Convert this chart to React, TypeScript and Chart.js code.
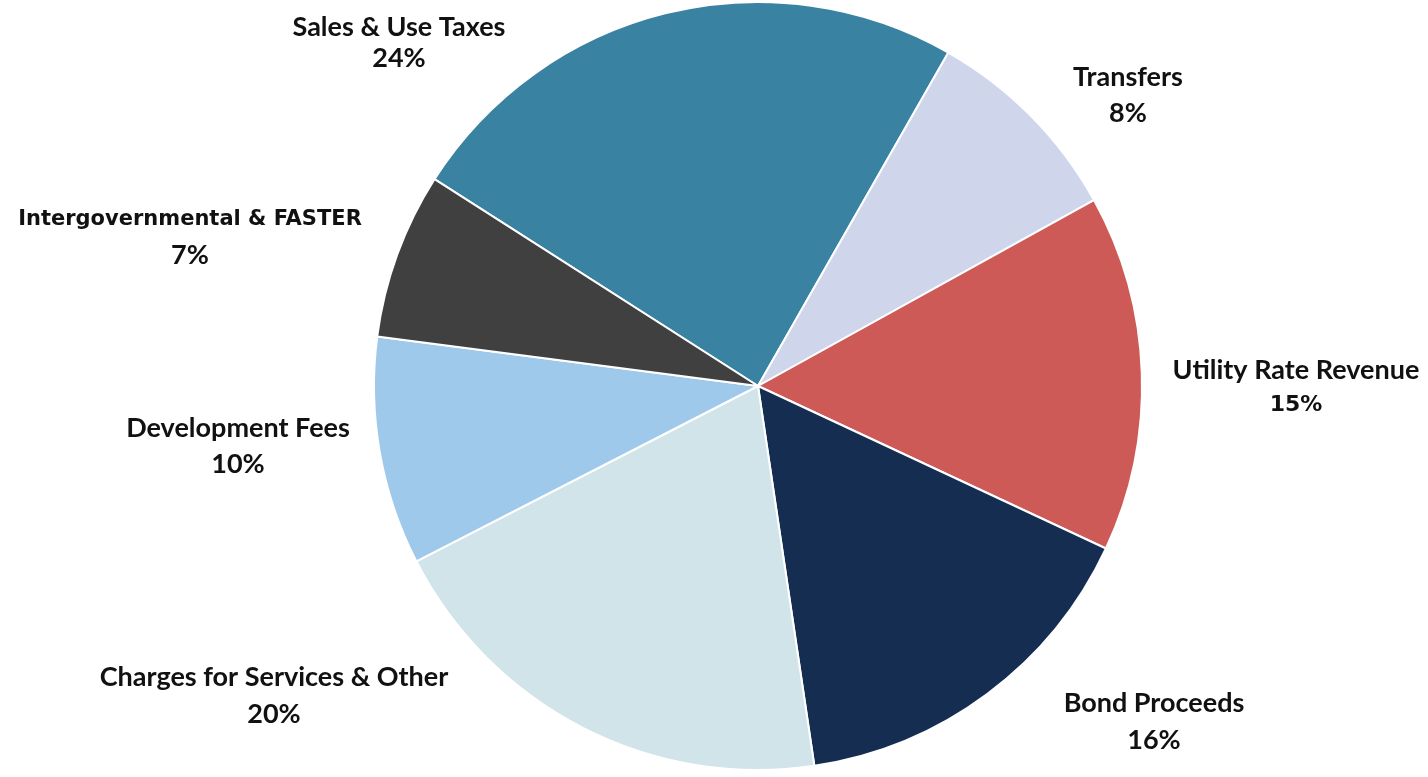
import React, { useEffect, useRef } from "react";
import { Chart, registerables } from "chart.js";

Chart.register(...registerables);

const categories = [
  "Sales & Use Taxes",
  "Transfers",
  "Utility Rate Revenue",
  "Bond Proceeds",
  "Charges for Services & Other",
  "Development Fees",
  "Intergovernmental & FASTER",
];
// slice sizes (percent of total)
const sliceValues = [24.2, 8.7, 15.0, 15.7, 19.8, 9.6, 7.0];
// percentages as printed on the chart
const pctLabels = ["24%", "8%", "15%", "16%", "20%", "10%", "7%"];
const sliceColors = ["#3A82A1", "#CFD6EC", "#CD5A57", "#162D52", "#D1E4EA", "#9FC9EA", "#404040"];

// label placement relative to pie center: [dx, dy of first line, line gap]
const labelLayout: [number, number, number][] = [
  [-359, -359, 31],
  [370, -309, 36],
  [538, -16, 35],
  [396, 317, 37],
  [-484, 291, 37],
  [-520, 42, 36],
  [-568, -166, 35],
];
const altFontLabels = [6];
const altFontPct = [2];

const labelPlugin = {
  id: "outsideLabels",
  afterDraw(chart: any) {
    const meta = chart.getDatasetMeta(0);
    const arc = meta.data[0];
    if (!arc) return;
    const cx = arc.x;
    const cy = arc.y;
    const ctx = chart.ctx;
    ctx.save();
    ctx.fillStyle = "#111111";
    ctx.textAlign = "center";
    ctx.textBaseline = "middle";
    categories.forEach((name, i) => {
      const [dx, dy, gap] = labelLayout[i];
      ctx.font = altFontLabels.includes(i)
        ? "bold 21px 'DejaVu Sans'"
        : "bold 27px Lato";
      ctx.fillText(name, cx + dx, cy + dy);
      ctx.font = altFontPct.includes(i)
        ? "bold 22px 'DejaVu Sans'"
        : "bold 27px Lato";
      ctx.fillText(pctLabels[i], cx + dx, cy + dy + gap);
    });
    ctx.restore();
  },
};

export default function App() {
  const canvasRef = useRef<HTMLCanvasElement | null>(null);

  useEffect(() => {
    if (!canvasRef.current) return;
    const chart = new Chart(canvasRef.current, {
      type: "pie",
      data: {
        labels: categories,
        datasets: [
          {
            data: sliceValues,
            backgroundColor: sliceColors,
            borderColor: "#FFFFFF",
            borderWidth: 2,
          },
        ],
      },
      options: {
        animation: false,
        responsive: true,
        maintainAspectRatio: false,
        rotation: -57.4,
        layout: { padding: { left: 88, right: 0, top: 1, bottom: 6 } },
        plugins: {
          legend: { display: false },
          tooltip: { enabled: false },
        },
      },
      plugins: [labelPlugin],
    });
    return () => chart.destroy();
  }, []);

  return (
    <div style={{ position: "fixed", left: 0, top: 0, width: 1428, height: 777, background: "#FFFFFF" }}>
      <canvas ref={canvasRef} />
    </div>
  );
}
